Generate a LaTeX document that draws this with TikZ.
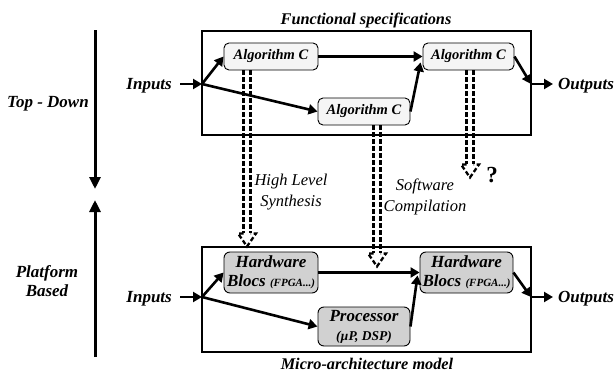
\documentclass[tikz,border=0pt]{standalone}
\usepackage{fontspec}
\setmainfont{Liberation Serif}
\usetikzlibrary{arrows.meta,calc}
\tikzset{
  lbl/.style={font=\bfseries\itshape\fontsize{17}{19}\selectfont, inner sep=1pt, align=center},
  ttl/.style={font=\bfseries\itshape\fontsize{16.3}{19}\selectfont, inner sep=0pt},
  ital/.style={font=\itshape\fontsize{16.5}{21}\selectfont, inner sep=1pt, align=center},
  frame/.style={draw, line width=1.1pt, inner sep=0pt},
  algo/.style={draw, line width=0.9pt, rounded corners=5pt, fill=black!4, inner sep=0pt,
    minimum height=27pt, font=\bfseries\itshape\fontsize{14.5}{16}\selectfont},
  hw/.style={draw, line width=0.9pt, rounded corners=6pt, fill=black!18, inner sep=0pt,
    align=center, font=\bfseries\itshape\fontsize{17}{19}\selectfont},
  arr/.style={line width=2.6pt, -{Triangle[length=9pt,width=10pt]}},
  bigarr/.style={line width=3pt, -{Triangle[length=12pt,width=11pt]}},
  ddash/.style={line width=2.3pt, dash pattern=on 4.5pt off 2.5pt},
}
\newcommand\dblarrow[2]{%
  \draw[ddash] ($(#1)+(-3.5,0)$) -- ($(#2)+(-3.5,-13)$);
  \draw[ddash] ($(#1)+(3.5,0)$) -- ($(#2)+(3.5,-13)$);
  \draw[ddash] ($(#2)+(-3.5,-13)$) -- ($(#2)+(-9,-13)$) -- (#2) -- ($(#2)+(9,-13)$) -- ($(#2)+(3.5,-13)$);
}
\begin{document}
\begin{tikzpicture}[x=1pt,y=-1pt]
\useasboundingbox (0,0) rectangle (614,372);

% left arrows
\coordinate (tdA) at (95,30);
\coordinate (tdB) at (95,189);
\coordinate (pbA) at (95,357);
\coordinate (pbB) at (95,200);
\draw[bigarr] (tdA) -- (tdB);
\draw[bigarr] (pbA) -- (pbB);
\node[lbl] (td) at (48,104) {Top - Down};
\node[lbl] (pb) at (47,281) {Platform\\Based};

% top level
\node[frame, minimum width=329pt, minimum height=104pt] (top) at (366.5,83) {};
\node[ttl] (toptitle) at (366,20) {Functional specifications};
\node[algo, minimum width=94pt] (a1) at (271,56.5) {Algorithm C};
\node[algo, minimum width=92pt] (a2) at (364,111.5) {Algorithm C};
\node[algo, minimum width=91pt] (a3) at (468.5,56.5) {Algorithm C};
\coordinate (j1) at (202,84);
\coordinate (o1) at (531,84);
\node[lbl, anchor=east] (in1) at (173,86) {Inputs};
\node[lbl, anchor=west] (out1) at (557,86) {Outputs};
\draw[arr] ($(j1)+(-22,0)$) -- (j1);
\draw[arr] (j1) -- (a1.west);
\draw[arr] (j1) -- (a2.west);
\draw[arr] (a1.east) -- (a3.west);
\draw[arr] (a2.east) -- ($(a3.south west)+(-2,-8)$);
\draw[arr] (a3.east) -- (o1);
\draw[arr] (o1) -- ($(o1)+(22,0)$);

% bottom level
\node[frame, minimum width=329pt, minimum height=105pt] (bot) at (366.5,299.5) {};
\node[ttl] (bottitle) at (367,363.5) {Micro-architecture model};
\node[hw, minimum width=94pt, minimum height=41pt] (h1) at (271,272.5) {Hardware\\Blocs {\fontsize{11}{12}\selectfont (FPGA...)}};
\node[hw, minimum width=93pt, minimum height=41pt] (h2) at (466.5,272.5) {Hardware\\Blocs {\fontsize{11}{12}\selectfont (FPGA...)}};
\node[hw, minimum width=92pt, minimum height=39pt] (p) at (364,326.5) {Processor\\{\fontsize{13.5}{15}\selectfont (µP, DSP)}};
\coordinate (j2) at (202,297);
\coordinate (o2) at (531,297);
\node[lbl, anchor=east] (in2) at (173,299) {Inputs};
\node[lbl, anchor=west] (out2) at (557,299) {Outputs};
\draw[arr] ($(j2)+(-22,0)$) -- (j2);
\draw[arr] (j2) -- (h1.west);
\draw[arr] (j2) -- (p.west);
\draw[arr] (h1.east) -- (h2.west);
\draw[arr] (p.east) -- ($(h2.south west)+(-2,-18)$);
\draw[arr] (h2.east) -- (o2);
\draw[arr] (o2) -- ($(o2)+(22,0)$);

% dashed double arrows
\coordinate (s1) at ($(a1.south)+(-24,0)$);
\coordinate (t1) at (s1 |- bot.north);
\coordinate (s2) at ($(a2.south)+(13,0)$);
\coordinate (t2) at ($(s2 |- bot.north)+(0,20)$);
\coordinate (s3) at ($(a3.south)+(1.5,0)$);
\coordinate (t3) at ($(s3)+(0,107)$);
\dblarrow{s1}{t1}
\dblarrow{s2}{t2}
\dblarrow{s3}{t3}

\node[ital] (hls) at (291,192) {High Level\\Synthesis};
\node[ital] (swc) at (425,197) {Software\\Compilation};
\node[font=\bfseries\fontsize{23}{24}\selectfont, inner sep=0pt] (q) at (492,175) {?};
\end{tikzpicture}
\end{document}
